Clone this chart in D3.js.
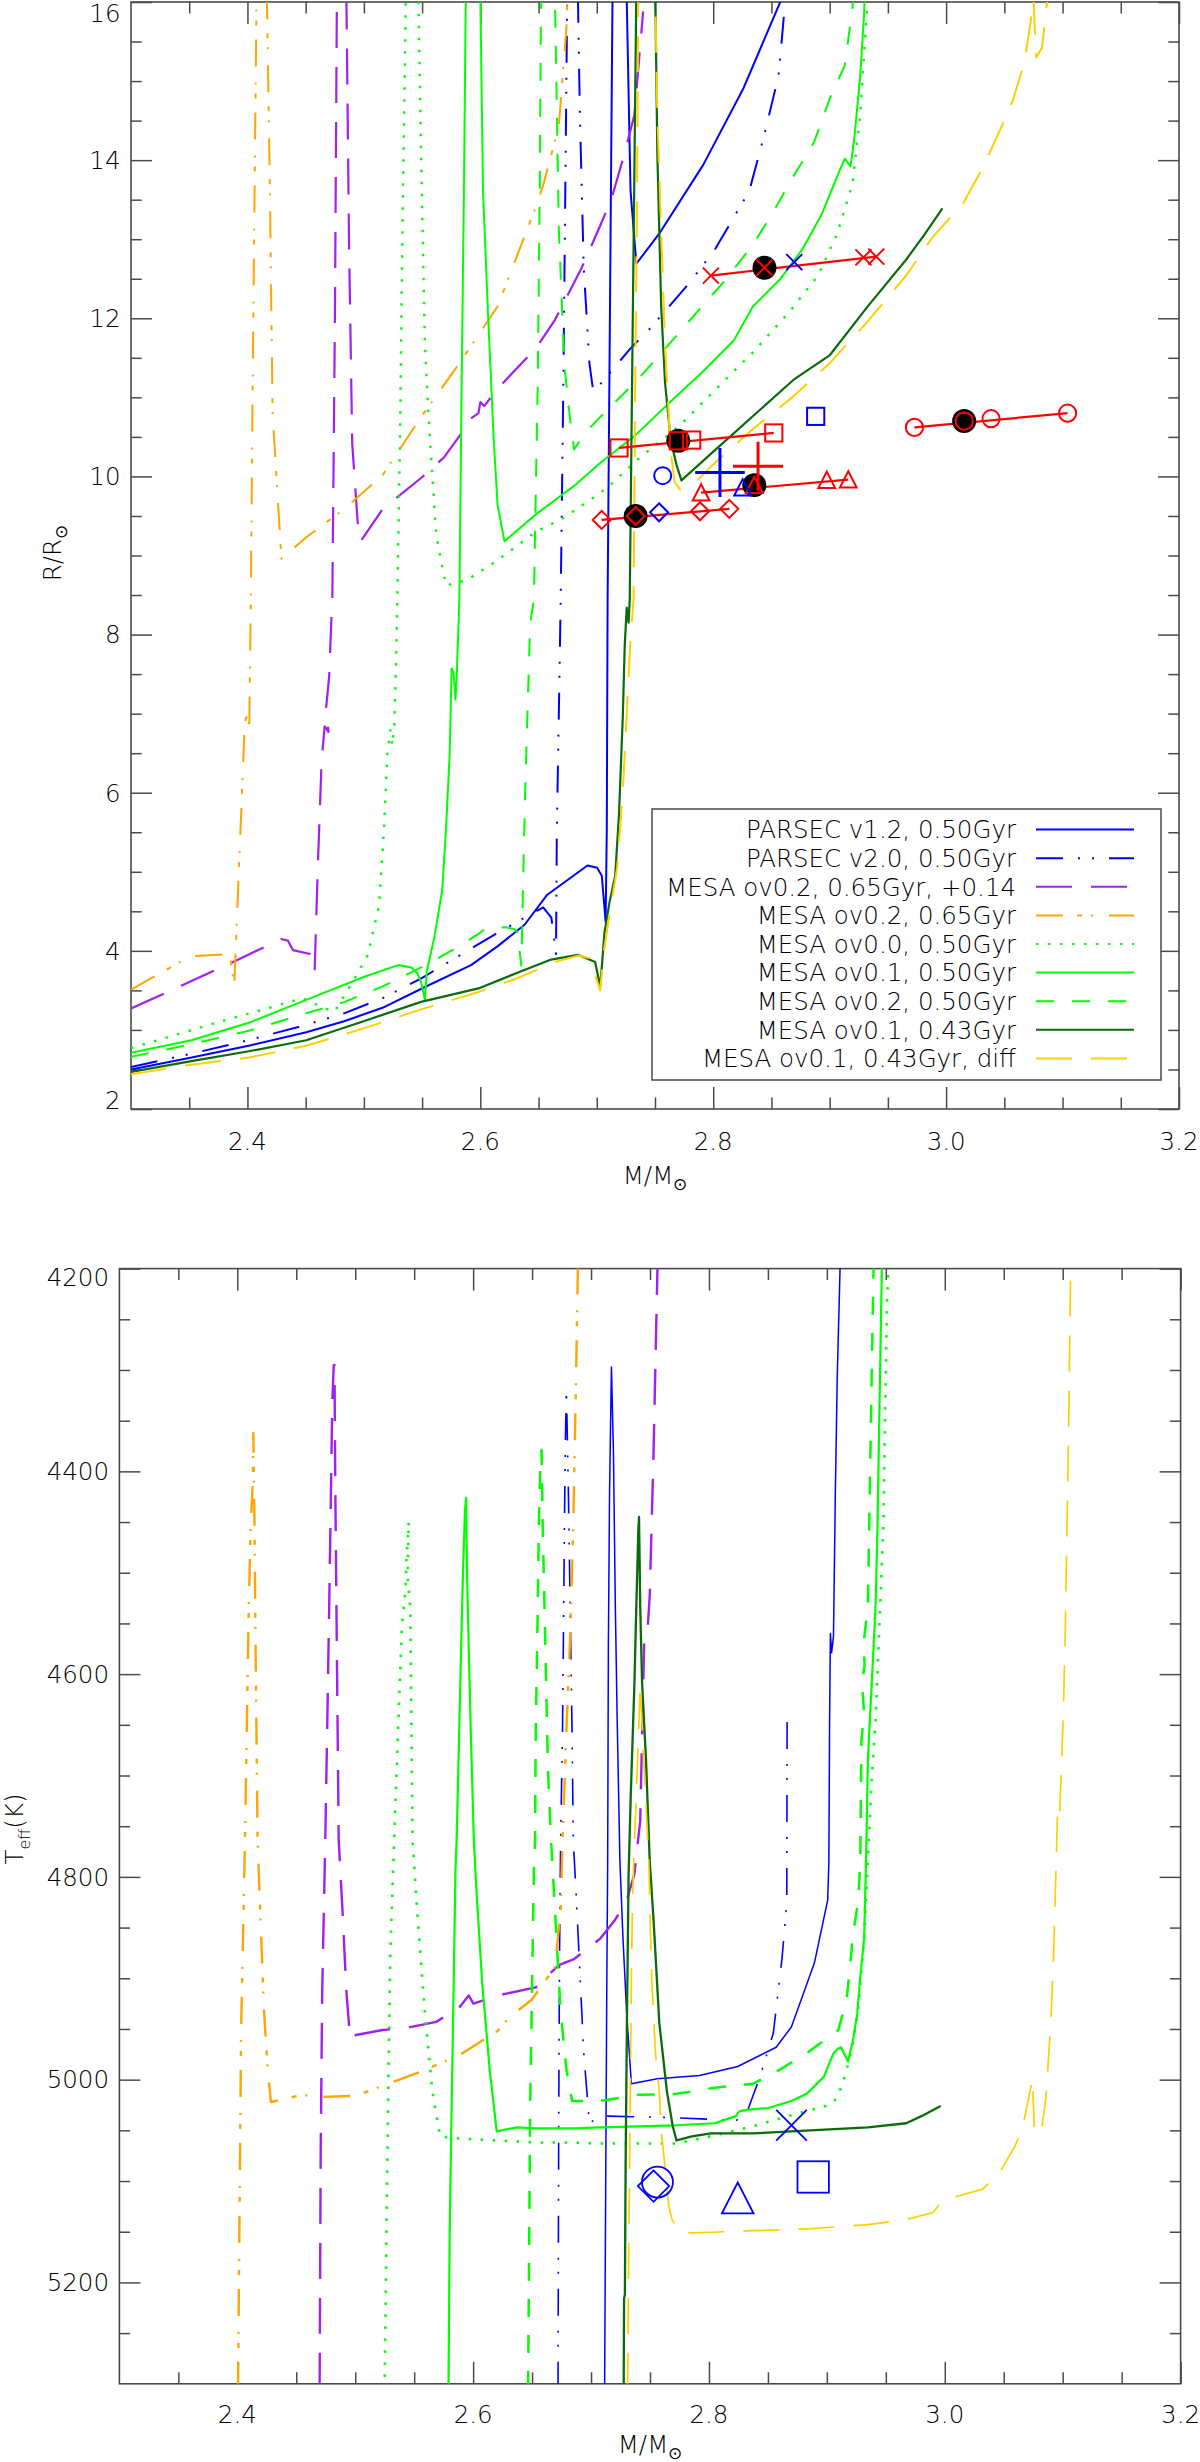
<!DOCTYPE html>
<html><head><meta charset="utf-8">
<script src="https://cdnjs.cloudflare.com/ajax/libs/d3/7.8.5/d3.min.js"></script>
<style>
body{margin:0;background:#fff}
svg{display:block}
text{font-family:"DejaVu Sans","Liberation Sans",sans-serif;fill:#000;font-weight:200}
</style></head>
<body><svg id="c" width="1200" height="2462"></svg>
<script>
// ---------------- DATA ----------------
const seriesNames = ["PARSEC v1.2, 0.50Gyr","PARSEC v2.0, 0.50Gyr","MESA ov0.2, 0.65Gyr, +0.14","MESA ov0.2, 0.65Gyr","MESA ov0.0, 0.50Gyr","MESA ov0.1, 0.50Gyr","MESA ov0.2, 0.50Gyr","MESA ov0.1, 0.43Gyr","MESA ov0.1, 0.43Gyr, diff"];

const xMajorTicks = [2.4,2.6,2.8,3.0,3.2];
const xMinorTicks = [2.35,2.45,2.5,2.55,2.65,2.7,2.75,2.85,2.9,2.95,3.05,3.1,3.15];
const rMajorTicks = [2,4,6,8,10,12,14,16];
const rMinorTicks = [2.5,3,3.5,4.5,5,5.5,6.5,7,7.5,8.5,9,9.5,10.5,11,11.5,12.5,13,13.5,14.5,15,15.5];
const tMajorTicks = [4200,4400,4600,4800,5000,5200];
const tMinorTicks = [4250,4300,4350,4450,4500,4550,4650,4700,4750,4850,4900,4950,5050,5100,5150,5250];

// Panel 1 : M vs R
const p1_parsec12_M = [2.300,2.352,2.401,2.4505,2.483,2.516,2.552,2.592,2.615,2.638,2.6575,2.692,2.7003,2.7043,2.7076,2.7086,2.7093,2.7135,2.7257,2.729,2.734,2.7536,2.7914,2.826,2.859];
const p1_parsec12_R = [2.50,2.65,2.80,2.97,3.11,3.28,3.54,3.82,4.06,4.33,4.71,5.08,5.05,4.95,4.37,5.53,8.44,16.05,16.05,13.61,12.69,13.07,13.94,14.91,16.05];
const p1_parsec20_M = [2.300,2.352,2.401,2.4505,2.483,2.516,2.549,2.582,2.615,2.654,2.661,2.665,2.6657,2.6674,2.669,2.6713,2.6733,2.6746,2.6838,2.6855,2.6888,2.6937,2.697,2.7027,2.729,2.745,2.778,2.801,2.831,2.844,2.856,2.859,2.862];
const p1_parsec20_R = [2.53,2.70,2.87,3.065,3.21,3.40,3.65,3.94,4.23,4.55,4.42,3.96,5.53,6.99,8.44,11.19,14.09,16.05,16.05,14.57,12.64,11.43,11.07,11.16,11.62,11.86,12.42,12.86,13.61,14.33,15.06,15.54,16.05];
const p1_mesa02p_M = [2.300,2.385,2.429,2.4347,2.439,2.4538,2.4577,2.4604,2.4637,2.4663,2.4696,2.4676,2.4702,2.4722,2.4729,2.4752,2.4768,2.485,2.4873,2.490,2.4949,2.4972,2.5162,2.5491,2.5688,2.582,2.5918,2.5984,2.600,2.6033,2.6148,2.6477,2.6641,2.6871,2.7029,2.7126,2.724,2.7323,2.7398];
const p1_mesa02p_R = [3.27,3.84,4.15,4.13,4.01,3.96,3.74,5.05,6.41,6.84,6.77,7.08,7.47,8.24,8.44,12.15,16.05,16.05,12.88,10.41,9.37,9.18,9.59,9.98,10.24,10.51,10.73,10.80,10.94,10.89,11.11,11.62,11.98,12.64,13.17,13.51,14.09,14.57,15.88];
const p1_mesa02o_M = [2.300,2.3256,2.3503,2.3848,2.3887,2.3914,2.3946,2.3973,2.3985,2.4012,2.4015,2.4029,2.4045,2.4078,2.4167,2.4193,2.4216,2.4292,2.4505,2.4834,2.5162,2.549,2.582,2.6148,2.6477,2.6543,2.6674,2.674,2.6746];
const p1_mesa02o_R = [3.51,3.72,3.93,3.96,3.55,4.57,5.73,6.74,6.94,6.98,6.77,8.44,11.19,16.05,16.05,13.61,10.80,8.96,9.23,9.59,10.02,10.75,11.43,12.15,13.41,13.70,14.43,15.69,16.05];
const p1_mesa00_M = [2.300,2.3684,2.4472,2.4735,2.4768,2.490,2.5031,2.513,2.5172,2.5202,2.5228,2.5244,2.5261,2.5277,2.5287,2.531,2.5327,2.536,2.5468,2.5491,2.5524,2.5557,2.5622,2.5705,2.5885,2.6148,2.6477,2.6707,2.697,2.7093,2.7356,2.7717,2.8013,2.8342,2.867,2.890,2.9065,2.9196,2.9262,2.9327];
const p1_mesa00_R = [2.77,3.07,3.40,3.23,3.28,3.60,3.94,4.57,5.53,6.50,6.79,6.60,6.84,7.71,8.44,10.46,12.64,16.05,16.05,14.09,11.67,10.70,9.25,8.62,8.69,8.94,9.30,9.47,9.73,9.86,10.22,10.65,11.09,11.57,12.11,12.54,13.07,13.70,14.57,16.05];
const p1_mesa01_M = [2.300,2.3519,2.4012,2.4505,2.4998,2.5294,2.5409,2.5458,2.5491,2.5524,2.554,2.5606,2.5672,2.5705,2.5737,2.5753,2.577,2.5786,2.5797,2.582,2.5836,2.5859,2.5875,2.600,2.6023,2.6066,2.6115,2.6148,2.6207,2.6477,2.6805,2.7029,2.7323,2.7651,2.7914,2.8177,2.8341,2.8572,2.8769,2.8933,2.908,2.913,2.9179,2.9212,2.9262,2.9295,2.930];
const p1_mesa01_R = [2.71,2.87,3.09,3.38,3.67,3.82,3.79,3.72,3.60,3.38,3.74,4.18,4.76,5.53,6.50,7.57,7.52,7.18,7.47,8.44,10.70,13.61,16.05,16.05,13.61,12.06,10.46,9.64,9.18,9.52,9.88,10.17,10.51,10.97,11.33,11.72,12.15,12.49,12.88,13.32,13.85,14.02,13.92,14.28,15.06,15.83,16.05];
const p1_mesa02_M = [2.300,2.3519,2.4012,2.4505,2.4834,2.5162,2.5491,2.582,2.600,2.6033,2.6214,2.6296,2.6319,2.6352,2.6385,2.6428,2.646,2.6493,2.651,2.652,2.6525,2.6641,2.6674,2.6723,2.6773,2.6805,2.6904,2.7029,2.7356,2.7619,2.7849,2.8079,2.8341,2.8506,2.867,2.8867,2.8999,2.913,2.9196,2.920];
const p1_mesa02_R = [2.66,2.82,2.99,3.21,3.355,3.55,3.79,4.06,4.23,4.27,4.30,4.275,4.23,3.815,6.02,8.15,8.44,11.19,13.61,15.83,16.05,16.05,13.12,11.38,10.70,10.34,10.56,10.75,11.23,11.67,12.06,12.44,12.93,13.32,13.75,14.23,14.77,15.20,15.93,16.05];
const p1_mesa01y_M = [2.300,2.3519,2.4012,2.4505,2.4998,2.5491,2.5984,2.6313,2.6608,2.6838,2.6904,2.6986,2.7029,2.7043,2.7066,2.7109,2.7158,2.7191,2.7224,2.724,2.7257,2.7273,2.7283,2.7339,2.7503,2.752,2.7553,2.7586,2.7635,2.7684,2.7727,2.8013,2.8407,2.8688,2.8999,2.9327,2.9656,2.982,2.9968];
const p1_mesa01y_R = [2.47,2.605,2.73,2.87,3.11,3.355,3.525,3.72,3.89,3.95,3.91,3.86,3.55,3.79,4.23,4.61,4.95,5.73,6.99,7.86,8.34,8.15,8.44,16.05,16.05,14.09,12.15,11.19,10.46,10.15,9.95,10.33,10.85,11.22,11.53,12.15,12.74,13.07,13.39];
const p1_diff_M = [2.300,2.3519,2.4012,2.4505,2.4998,2.5491,2.5984,2.6313,2.6641,2.6838,2.6937,2.7029,2.706,2.711,2.7175,2.7224,2.7257,2.729,2.7316,2.733,2.7346,2.7356,2.7503,2.752,2.7553,2.7586,2.7619,2.7635,2.7668,2.7717,2.7849,2.8013,2.8341,2.867,2.8999,2.9327,2.9656,2.9886,3.0149,3.0313,3.0478,3.0576,3.0675,3.0724,3.075,3.0773,3.0823,3.0855,3.0872];
const p1_diff_R = [2.44,2.56,2.65,2.80,3.02,3.26,3.48,3.65,3.86,3.94,3.91,3.50,3.985,4.47,5.05,6.02,6.99,7.95,8.44,11.19,13.61,16.05,16.05,14.57,13.12,11.67,10.75,10.32,9.93,9.83,9.93,10.17,10.60,10.99,11.43,11.96,12.54,13.03,13.46,13.90,14.43,14.77,15.25,15.74,16.05,15.30,15.42,15.83,16.05];

// Panel 2 : M vs Teff
const p2_parsec12_M = [2.7115,2.7125,2.7134,2.7141,2.7147,2.7157,2.7173,2.719,2.7206,2.7222,2.7245,2.7271,2.7303,2.7342,2.7563,2.792,2.8244,2.857,2.8699,2.8894,2.9007,2.9017,2.9023,2.903,2.904,2.9056,2.9072,2.9088,2.9105,2.9114];
const p2_parsec12_T = [5305,5087,4899,4785,4571,4420,4297,4382,4533,4647,4785,4861,4936,5004,4999,4996,4987,4968,4948,4885,4823,4785,4647,4560,4579,4563,4420,4307,4231,4190];
const p2_parsec20_M = [2.672,2.6726,2.6733,2.6742,2.6758,2.6768,2.6778,2.6784,2.6791,2.6807,2.6823,2.6839,2.6849,2.6872,2.6905,2.6937,2.6986,2.7077,2.7141,2.7563,2.8212,2.8235,2.832,2.8433,2.8546,2.862,2.866,2.8663];
const p2_parsec20_T = [5305,5032,4873,4764,4656,4535,4414,4358,4320,4414,4535,4656,4764,4813,4893,4972,5043,5036,5036,5037,5040,5040,5033,4997,4954,4880,4826,4639];
const p2_mesa02p_M = [2.4698,2.4707,2.472,2.4746,2.4762,2.4779,2.4795,2.4805,2.4818,2.4824,2.4831,2.4844,2.486,2.4892,2.4925,2.4957,2.5006,2.5233,2.5428,2.5687,2.5882,2.5963,2.6002,2.6207,2.6531,2.6726,2.6856,2.7077,2.7206,2.7303,2.7368,2.7384,2.7417,2.745,2.7482,2.7498,2.753,2.7563,2.757];
const p2_mesa02p_T = [5305,5072,4913,4764,4656,4535,4414,4334,4295,4295,4414,4575,4764,4833,4913,4960,4956,4951,4949,4943,4929,4917,4925,4917,4909,4887,4881,4861,4842,4823,4797,4779,4745,4571,4552,4522,4382,4201,4190];
const p2_mesa02o_M = [2.4006,2.4032,2.4065,2.4097,2.4113,2.413,2.4136,2.4146,2.4155,2.4172,2.4194,2.4227,2.4259,2.4285,2.4551,2.4714,2.5006,2.5233,2.5558,2.5882,2.6207,2.6304,2.6434,2.6499,2.6694,2.6742,2.6758,2.6791,2.6823,2.6849,2.6872,2.6888,2.6892];
const p2_mesa02o_T = [5305,4952,4764,4535,4454,4414,4362,4454,4575,4764,4833,4933,4992,5022,5015,5017,5016,5006,4992,4976,4952,4939,4927,4921,4889,4833,4764,4656,4563,4454,4313,4201,4190];
const p2_mesa00_M = [2.5249,2.5265,2.5282,2.5298,2.533,2.5363,2.5395,2.5428,2.5434,2.5454,2.5444,2.5467,2.5477,2.5486,2.5525,2.559,2.5655,2.572,2.5882,2.6207,2.6531,2.6856,2.7077,2.74,2.7725,2.805,2.8374,2.8699,2.9023,2.9088,2.9153,2.9218,2.9267,2.9316,2.9348,2.938,2.9413,2.9445,2.9478,2.9494,2.951,2.9527];
const p2_mesa00_T = [5305,5151,4992,4873,4764,4656,4555,4515,4487,4450,4503,4535,4656,4764,4833,4933,5012,5056,5058,5060,5062,5062,5063,5063,5063,5055,5046,5035,5025,5018,4997,4967,4929,4861,4785,4703,4647,4552,4458,4345,4231,4190];
const p2_mesa01_M = [2.5791,2.5801,2.5817,2.5834,2.585,2.586,2.5882,2.5898,2.5915,2.5931,2.5941,2.5947,2.5963,2.598,2.6006,2.6028,2.6077,2.6142,2.62,2.6369,2.6531,2.6856,2.7077,2.74,2.7725,2.805,2.8228,2.826,2.8374,2.8504,2.8699,2.8829,2.8975,2.9056,2.9088,2.9121,2.9179,2.9218,2.9257,2.9283,2.9316,2.9332,2.9348,2.9364,2.9397,2.9413,2.9429,2.9445,2.9462,2.9468];
const p2_mesa01_T = [5305,5151,5032,4913,4794,4764,4656,4575,4495,4438,4426,4495,4575,4656,4764,4813,4905,4992,5051,5047,5048,5048,5047,5046,5045,5043,5036,5031,5029,5028,5021,5014,4997,4974,4970,4968,4982,4963,4936,4899,4861,4785,4684,4647,4571,4533,4458,4345,4231,4190];
const p2_mesa02_M = [2.6466,2.6476,2.6483,2.6499,2.6515,2.6525,2.6531,2.6548,2.6557,2.657,2.658,2.659,2.6613,2.6635,2.6661,2.6694,2.6742,2.6791,2.684,2.7077,2.74,2.7725,2.805,2.8376,2.8575,2.8829,2.9097,2.9168,2.9224,2.9267,2.9283,2.9293,2.9316,2.930,2.932,2.931,2.9348,2.9364,2.938,2.9397];
const p2_mesa02_T = [5305,5151,5032,4913,4794,4764,4656,4535,4454,4394,4379,4454,4575,4696,4764,4833,4933,4990,5021,5021,5015,5014,5008,5004,4992,4974,4951,4921,4855,4823,4785,4665,4640,4610,4590,4571,4533,4420,4307,4193];
const p2_mesa01y_M = [2.7277,2.728,2.7287,2.7293,2.7305,2.7318,2.7336,2.7368,2.7384,2.7401,2.7407,2.7417,2.7433,2.7466,2.7498,2.753,2.7579,2.7644,2.7693,2.7725,2.7855,2.8017,2.8374,2.8699,2.9023,2.9348,2.9673,2.9802,2.9965];
const p2_mesa01y_T = [5305,5216,5212,5087,4936,4800,4722,4609,4533,4458,4445,4533,4609,4684,4785,4842,4944,5012,5046,5060,5056,5053,5053,5051,5049,5047,5043,5036,5026];
const p2_diff_M = [2.731,2.732,2.733,2.7342,2.7352,2.7362,2.739,2.7417,2.7445,2.749,2.7514,2.7547,2.7579,2.7595,2.7628,2.766,2.7686,2.7758,2.7887,2.8374,2.8861,2.9348,2.9673,2.99,2.9981,3.0322,3.0468,3.0598,3.0663,3.0744,3.076,3.0815,3.0857,3.0899,3.0922,3.0945,3.0955,3.0971,3.1003,3.102,3.1036,3.1052,3.1068];
const p2_diff_T = [5305,5163,5050,4899,4823,4785,4700,4610,4680,4785,4899,4974,5012,5050,5087,5125,5138,5151,5151,5149,5147,5143,5138,5131,5119,5108,5091,5065,5046,4999,5050,5054,5019,4944,4880,4785,4741,4748,4647,4571,4458,4345,4193];

// Observations (panel 1), four estimates per star, index 1 = adopted (black dot)
const obsX_M  = [2.798,2.844,2.929,2.940],    obsX_R  = [12.54,12.64,12.77,12.78];
const obsSq_M = [2.7191,2.770,2.7815,2.852],  obsSq_R = [10.36,10.45,10.46,10.55];
const obsCi_M = [2.9728,3.0155,3.0386,3.1043],obsCi_R = [10.62,10.70,10.73,10.80];
const obsTr_M = [2.7896,2.8353,2.8975,2.916], obsTr_R = [9.795,9.89,9.955,9.96];
const obsDi_M = [2.7042,2.7334,2.7887,2.8138],obsDi_R = [9.45,9.50,9.56,9.59];
// Blue model points
const blueSymbols = ["circle","diamond","triangle","square","x"];
const blue1_M = [2.7566,2.7535,2.8253,2.888,2.8696], blue1_R = [10.01,9.546,9.86,10.76,12.71];
const blue2_M = [2.7563,2.753,2.8244,2.8884,2.870],  blue2_T = [5101,5105,5117,5096,5045];
// Error crosses (blue, red)
const cross_M = [2.8058,2.8385], cross_Merr = [0.0213,0.0215];
const cross_R = [10.05,10.13],   cross_Rerr = [0.31,0.31];

// ---------------- STYLES / LAYOUT ----------------
const colors = ["#0000ff","#0000ff","#a020f0","#ffa500","#00ff00","#00ff00","#00ff00","#0b6b0b","#ffd000"];
const dashes = [null,"27,15,2,12,2,15","36,19","27,14,5,9,2,16","2.5,9.5",null,"18,18",null,"36,19"];
const widths1 = [2,2,2.2,2,2.4,2,2,2.2,2];
const widths2 = [1.5,1.6,2.4,2.4,2.6,2.2,2.5,2.3,1.7];

const svg = d3.select("#c");
const P1 = {l:131,r:1179,t:2,b:1109};
const P2 = {l:119.4,r:1180.6,t:1268.6,b:2383.8};
const x1 = d3.scaleLinear([2.3,3.2],[P1.l,P1.r]);
const y1 = d3.scaleLinear([2,16],[P1.b,P1.t]);
const x2 = d3.scaleLinear([2.3,3.2],[P2.l,P2.r]);
const y2 = d3.scaleLinear([4200,5300],[P2.t,P2.b]);

const defs = svg.append("defs");
[["clip1",P1],["clip2",P2]].forEach(([id,P])=>{
  defs.append("clipPath").attr("id",id).append("rect")
    .attr("x",P.l).attr("y",P.t).attr("width",P.r-P.l).attr("height",P.b-P.t);
});

const AX = "#4a4a4a";
function axes(P,x,y,yMaj,yMin,yLabelRight,xLabelY,fmtY,labelOffTop){
  const g = svg.append("g");
  const mk = (axis,tx,ty)=>{
    const a = g.append("g").attr("transform",`translate(${tx},${ty})`).call(axis);
    a.select(".domain").remove();
    a.selectAll("line").attr("stroke",AX).attr("stroke-width",1.5);
    a.selectAll("text").remove();
  };
  mk(d3.axisBottom(x).tickValues(xMajorTicks).tickSize(-22),0,P.b);
  mk(d3.axisBottom(x).tickValues(xMinorTicks).tickSize(-11.5),0,P.b);
  mk(d3.axisTop(x).tickValues(xMajorTicks).tickSize(-22),0,P.t);
  mk(d3.axisTop(x).tickValues(xMinorTicks).tickSize(-11.5),0,P.t);
  mk(d3.axisLeft(y).tickValues(yMaj).tickSize(-21),P.l,0);
  mk(d3.axisLeft(y).tickValues(yMin).tickSize(-10.7),P.l,0);
  mk(d3.axisRight(y).tickValues(yMaj).tickSize(-21),P.r,0);
  mk(d3.axisRight(y).tickValues(yMin).tickSize(-10.7),P.r,0);
  g.append("rect").attr("x",P.l).attr("y",P.t).attr("width",P.r-P.l).attr("height",P.b-P.t)
    .attr("fill","none").attr("stroke",AX).attr("stroke-width",1.6);
  g.selectAll(null).data(xMajorTicks).enter().append("text")
    .attr("x",d=>x(d)).attr("y",xLabelY).attr("text-anchor","middle").attr("dy","0.36em")
    .attr("font-size",24.5).text(d=>d3.format(".1f")(d));
  g.selectAll(null).data(yMaj).enter().append("text")
    .attr("x",yLabelRight).attr("y",d=>Math.min(Math.max(y(d),P.t+labelOffTop),P.b-8.5))
    .attr("text-anchor","end").attr("dy","0.36em").attr("font-size",24.5).text(fmtY);
}
axes(P1,x1,y1,rMajorTicks,rMinorTicks,120.5,1141,d=>String(d),11);
axes(P2,x2,y2,tMajorTicks,tMinorTicks,109,2414,d=>String(d),8.5);

function xTitle(cx,base){
  const t = svg.append("text").attr("x",cx).attr("y",base).attr("text-anchor","middle").attr("font-size",24.5);
  t.append("tspan").text("M/M");
  t.append("tspan").attr("font-size",17).attr("dy",6).text("\u2299");
}
xTitle(655,1183.5);
xTitle(650,2453);
{
  const t = svg.append("text").attr("transform","translate(61,553) rotate(-90)").attr("text-anchor","middle").attr("font-size",24.5);
  t.append("tspan").text("R/R");
  t.append("tspan").attr("font-size",17).attr("dy",6).text("\u2299");
}
{
  const t = svg.append("text").attr("transform","translate(23,1829) rotate(-90)").attr("text-anchor","middle").attr("font-size",24.5);
  t.append("tspan").text("T");
  t.append("tspan").attr("font-size",16).attr("dy",7).text("eff");
  t.append("tspan").attr("dy",-7).text("(K)");
}

const p1Series = [[p1_parsec12_M,p1_parsec12_R],[p1_parsec20_M,p1_parsec20_R],[p1_mesa02p_M,p1_mesa02p_R],[p1_mesa02o_M,p1_mesa02o_R],[p1_mesa00_M,p1_mesa00_R],[p1_mesa01_M,p1_mesa01_R],[p1_mesa02_M,p1_mesa02_R],[p1_mesa01y_M,p1_mesa01y_R],[p1_diff_M,p1_diff_R]];
const p2Series = [[p2_parsec12_M,p2_parsec12_T],[p2_parsec20_M,p2_parsec20_T],[p2_mesa02p_M,p2_mesa02p_T],[p2_mesa02o_M,p2_mesa02o_T],[p2_mesa00_M,p2_mesa00_T],[p2_mesa01_M,p2_mesa01_T],[p2_mesa02_M,p2_mesa02_T],[p2_mesa01y_M,p2_mesa01y_T],[p2_diff_M,p2_diff_T]];

function drawCurves(series,x,y,clip,widths){
  const g = svg.append("g").attr("clip-path",`url(#${clip})`);
  const line = d3.line().x(d=>x(d[0])).y(d=>y(d[1]));
  series.forEach(([M,V],i)=>{
    g.append("path").datum(M.map((m,k)=>[m,V[k]])).attr("d",line)
      .attr("fill","none").attr("stroke",colors[i]).attr("stroke-width",widths[i])
      .attr("stroke-linejoin","round")
      .attr("stroke-dasharray",dashes[i]);
  });
}
drawCurves(p1Series,x1,y1,"clip1",widths1);
drawCurves(p2Series,x2,y2,"clip2",widths2);

function sym(g,type,cx,cy,s,color,sw){
  const st = e=>e.attr("fill","none").attr("stroke",color).attr("stroke-width",sw);
  if(type==="circle") st(g.append("circle").attr("cx",cx).attr("cy",cy).attr("r",s));
  else if(type==="square") st(g.append("rect").attr("x",cx-s).attr("y",cy-s).attr("width",2*s).attr("height",2*s));
  else if(type==="diamond") st(g.append("path").attr("d",`M${cx},${cy-s}L${cx+s},${cy}L${cx},${cy+s}L${cx-s},${cy}Z`));
  else if(type==="triangle") st(g.append("path").attr("d",`M${cx},${cy-s}L${cx+s},${cy+s*0.95}L${cx-s},${cy+s*0.95}Z`));
  else if(type==="x") st(g.append("path").attr("d",`M${cx-s},${cy-s}L${cx+s},${cy+s}M${cx-s},${cy+s}L${cx+s},${cy-s}`));
}

const gObs = svg.append("g");
const groups = [["x",obsX_M,obsX_R,8],["square",obsSq_M,obsSq_R,8.6],["circle",obsCi_M,obsCi_R,8.6],["triangle",obsTr_M,obsTr_R,8.4],["diamond",obsDi_M,obsDi_R,9]];
groups.forEach(([type,M,R])=>{
  gObs.append("line").attr("x1",x1(M[0])).attr("y1",y1(R[0])).attr("x2",x1(M[M.length-1])).attr("y2",y1(R[R.length-1]))
    .attr("stroke","#ff0000").attr("stroke-width",2.2);
});
groups.forEach(([type,M,R])=>{
  gObs.append("circle").attr("cx",x1(M[1])).attr("cy",y1(R[1])).attr("r",12).attr("fill","#000");
});
groups.forEach(([type,M,R,s])=>{
  M.forEach((m,k)=>sym(gObs,type,x1(m),y1(R[k]),s,"#ff0000",2));
});
const bsz1 = {circle:8.5,diamond:9,triangle:8.4,square:8.6,x:8};
blueSymbols.forEach((t,k)=>sym(gObs,t,x1(blue1_M[k]),y1(blue1_R[k]),bsz1[t],"#0000ff",2));
const crossColors = ["#0000ff","#ff0000"];
cross_M.forEach((m,k)=>{
  gObs.append("path")
    .attr("d",`M${x1(m-cross_Merr[k])},${y1(cross_R[k])}H${x1(m+cross_Merr[k])}M${x1(m)},${y1(cross_R[k]-cross_Rerr[k])}V${y1(cross_R[k]+cross_Rerr[k])}`)
    .attr("stroke",crossColors[k]).attr("stroke-width",3).attr("fill","none");
});
const gObs2 = svg.append("g");
const bsz2 = {circle:15.5,diamond:15.7,triangle:15.8,square:15.7,x:15.3};
blueSymbols.forEach((t,k)=>sym(gObs2,t,x2(blue2_M[k]),y2(blue2_T[k]),bsz2[t],"#0000ff",1.8));

const L = {x0:652,y0:809,x1:1161,y1:1080,textX:1016,lx0:1036,lx1:1134,row0:829.6,dy:28.6};
const gL = svg.append("g");
gL.append("rect").attr("x",L.x0).attr("y",L.y0).attr("width",L.x1-L.x0).attr("height",L.y1-L.y0)
  .attr("fill","#fff").attr("stroke",AX).attr("stroke-width",1.5);
seriesNames.forEach((n,i)=>{
  const yy = L.row0+i*L.dy;
  gL.append("text").attr("x",L.textX).attr("y",yy).attr("dy","0.36em").attr("text-anchor","end")
    .attr("font-size",24.5).text(n);
  gL.append("line").attr("x1",L.lx0).attr("x2",L.lx1).attr("y1",yy).attr("y2",yy)
    .attr("stroke",colors[i]).attr("stroke-width",2).attr("stroke-dasharray",dashes[i]);
});
</script></body></html>
